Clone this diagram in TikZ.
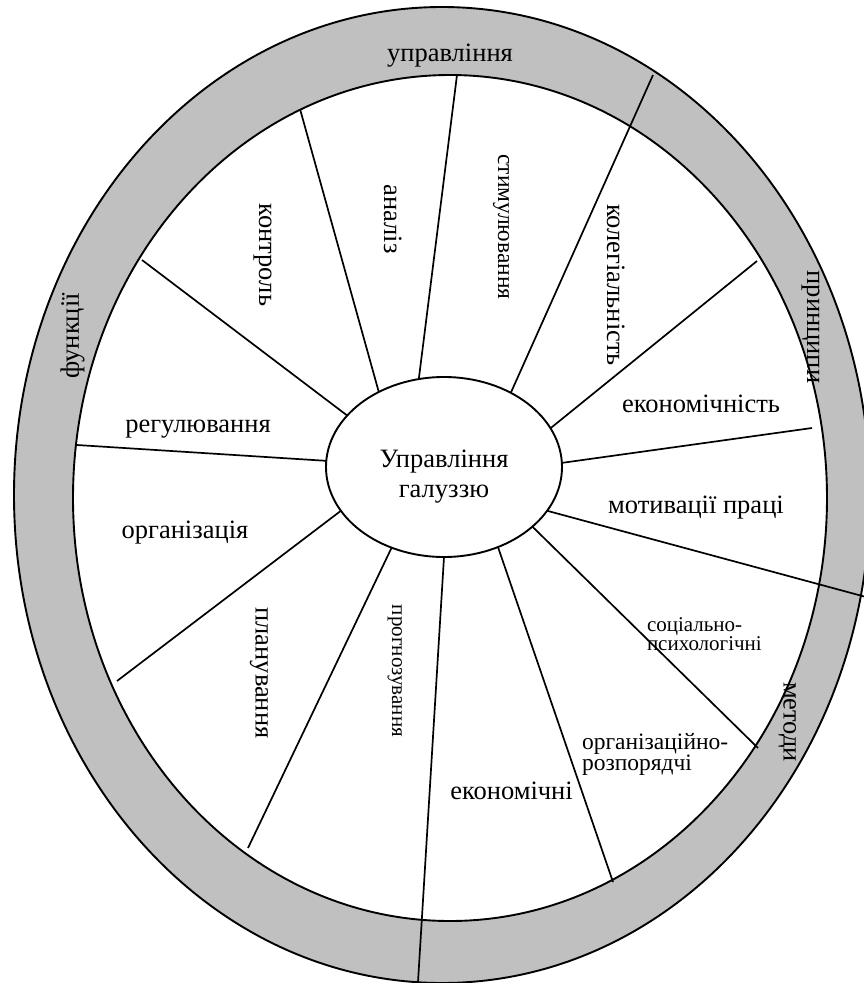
\documentclass[tikz,border=0pt]{standalone}
\usepackage{fontspec}
\setmainfont{Liberation Serif}
\usetikzlibrary{shapes.geometric}
\definecolor{bandgray}{RGB}{192,192,192}
\tikzset{
  rim/.style={draw=black, line width=1.9pt},
  spoke/.style={draw=black, line width=1.7pt},
  hub/.style={ellipse, draw=black, fill=white, line width=1.9pt, minimum width=236pt, minimum height=180pt, inner sep=0pt, outer sep=0pt},
  lbl/.style={inner sep=0pt, outer sep=0pt, font={\fontsize{26.5}{30}\selectfont}},
  hlbl/.style={lbl, anchor=base},
  dlbl/.style={lbl, rotate=-90, anchor=base},
  ulbl/.style={lbl, rotate=90},
  smalltxt/.style={font={\fontsize{21}{18}\selectfont\lineskiplimit-100pt\relax}},
  midtxt/.style={font={\fontsize{23.5}{21.5}\selectfont\lineskiplimit-100pt\relax}},
}
\begin{document}
\begin{tikzpicture}[x=1pt,y=-1pt]
\useasboundingbox (0,0) rectangle (864,983);
\begin{scope}
\clip (0,0) rectangle (864,983);
\fill[bandgray, even odd rule] (442,495) ellipse [x radius=428pt, y radius=488pt] (450,498) ellipse [x radius=377pt, y radius=423pt];
\draw[rim] (442,495) ellipse [x radius=428pt, y radius=488pt];
\draw[rim] (450,498) ellipse [x radius=377pt, y radius=423pt];

\node[hub] (c) at (444,467) {};

\coordinate (r1) at (142,260);
\coordinate (r2) at (300,109);
\coordinate (r3) at (457,75);
\coordinate (r4) at (653,75);
\coordinate (r5) at (757,261);
\coordinate (r6) at (812,428);
\coordinate (r7) at (866,597);
\coordinate (r8) at (758,748);
\coordinate (r9) at (613,882);
\coordinate (r10) at (418,982);
\coordinate (r11) at (248,848);
\coordinate (r12) at (117,681);
\coordinate (r13) at (77,445);

\draw[spoke] (r1) -- (c.152.4);
\draw[spoke] (r2) -- (c.131.7);
\draw[spoke] (r3) -- (c.106.5);
\draw[spoke] (r4) -- (c.48.3);
\draw[spoke] (r5) -- (c.20.7);
\draw[spoke] (r6) -- (c.2.4);
\draw[spoke] (r7) -- (c.-23.4);
\draw[spoke] (r8) -- (c.-34.3);
\draw[spoke] (r9) -- (c.-56.1);
\draw[spoke] (r10) -- (c.-90.6);
\draw[spoke] (r11) -- (c.-123.2);
\draw[spoke] (r12) -- (c.203.4);
\draw[spoke] (r13) -- (c.177.1);
\end{scope}

\node[lbl, align=center] (ct) at (444,477) {Управління\\галуззю};

\node[hlbl] (lu) at (450,61) {управління};
\node[ulbl] (lf) at (72.5,336) {функції};
\node[dlbl] (lp) at (807,327) {принципи};
\node[dlbl] (lm) at (783.5,722) {методи};

\node[dlbl] (l1) at (259,255) {контроль};
\node[dlbl] (l2) at (384,219) {аналіз};
\node[dlbl, midtxt] (l3) at (498,227) {стимулювання};
\node[dlbl] (l4) at (607,285) {колегіальність};
\node[hlbl] (l5) at (701,412) {економічність};
\node[hlbl] (l6) at (696,513) {мотивації праці};
\node[lbl, smalltxt, align=left, anchor=north west] (l7) at (647,617.5) {соціально-\\[1.5pt]психологічні};
\node[lbl, midtxt, align=left, anchor=north west] (l8) at (582,733) {організаційно-\\розпорядчі};
\node[hlbl] (l9) at (511.5,799) {економічні};
\node[dlbl, smalltxt] (l10) at (392,671) {прогнозування};
\node[dlbl] (l11) at (255.5,673) {планування};
\node[hlbl] (l12) at (185,538) {організація};
\node[hlbl] (l13) at (198,432) {регулювання};
\end{tikzpicture}
\end{document}
